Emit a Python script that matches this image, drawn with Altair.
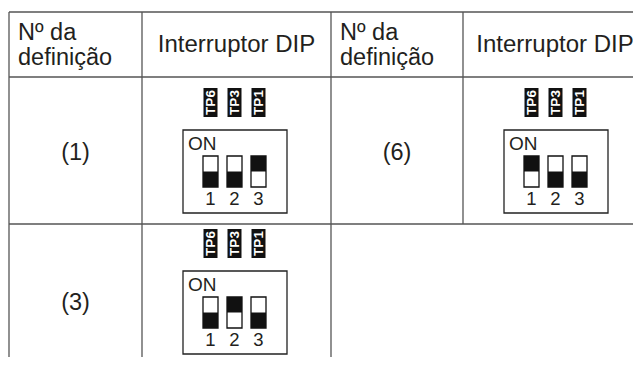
import altair as alt
import pandas as pd

# ---------------- data ----------------
header_setting = ["Nº da", "definição"]
header_dip = "Interruptor DIP"
setting_labels = ["(1)", "(6)", "(3)"]
setting_rows = [0, 0, 1]          # table row of each setting
setting_cols = [0, 2, 0]          # table column of each setting
switch_states = [[0, 0, 1], [1, 0, 0], [0, 1, 0]]   # 1 = ON (lever up)
tp_labels = ["TP6", "TP3", "TP1"]
switch_numbers = ["1", "2", "3"]
on_label = "ON"

# ---------------- layout ----------------
W, H = 625, 349
X0, Y0 = 8, 8
col_edges = [9, 142, 331, 463, 651]
row_edges = [12, 77, 224, 400]      # header, row 1, row 2 (bottom beyond view)
dip_shift = [0, 0, -6]              # vertical nudge of each switch drawing
FONT = "Liberation Sans"
INK = "#231f20"
LINE = "#555555"

X = alt.Scale(domain=[X0, X0 + W], nice=False, zero=False)
Y = alt.Scale(domain=[Y0, Y0 + H], nice=False, zero=False, reverse=True)

# grid lines
rules = []
for yv in row_edges[:3]:
    rules.append(dict(x=col_edges[0], x2=col_edges[-1], y=yv, y2=yv))
for i, xv in enumerate(col_edges):
    bottom = row_edges[3] if i <= 2 else row_edges[2]
    rules.append(dict(x=xv, x2=xv, y=row_edges[0], y2=bottom))
rules_df = pd.DataFrame(rules)

# header texts
hdr = []
for c in (0, 2):
    for k, line in enumerate(header_setting):
        hdr.append(dict(x=col_edges[c] + 9, y=40 + 25 * k, t=line))
hdr_df = pd.DataFrame(hdr)
hdr2 = [dict(x=236.5, y=52, t=header_dip), dict(x=555, y=52, t=header_dip)]
hdr2_df = pd.DataFrame(hdr2)

# setting numbers
sets = []
for lab, r, c in zip(setting_labels, setting_rows, setting_cols):
    cy = (row_edges[r + 1] + min(row_edges[r + 2], 378)) / 2 + 2
    sets.append(dict(x=(col_edges[c] + col_edges[c + 1]) / 2, y=cy, t=lab))
sets_df = pd.DataFrame(sets)

# DIP switch pieces
boxes, tps, sw, halves, nums, ons = [], [], [], [], [], []
for states, r, c, dy in zip(switch_states, setting_rows, setting_cols, dip_shift):
    left = col_edges[c + 1]
    top = row_edges[r + 1] + dy
    bl = left + 41
    bt = top + 53
    boxes.append(dict(x=bl, x2=bl + 104, y=bt, y2=bt + 83))
    ons.append(dict(x=bl + 5, y=bt + 20, t=on_label))
    for i, (st, tp, num) in enumerate(zip(states, tp_labels, switch_numbers)):
        cx = bl + 27.5 + 24 * i
        tps.append(dict(x=cx - 7, x2=cx + 7, y=top + 11, y2=top + 40,
                        cx=cx, cy=top + 25.5, t=tp))
        st_top = bt + 26
        sw.append(dict(x=cx - 7.5, x2=cx + 7.5, y=st_top, y2=st_top + 31))
        if st == 1:
            halves.append(dict(x=cx - 7.5, x2=cx + 7.5, y=st_top, y2=st_top + 15.5))
        else:
            halves.append(dict(x=cx - 7.5, x2=cx + 7.5, y=st_top + 15.5, y2=st_top + 31))
        nums.append(dict(x=cx, y=bt + 75, t=num))


def enc_rect():
    return dict(x=alt.X("x:Q", scale=X, axis=None), x2="x2:Q",
                y=alt.Y("y:Q", scale=Y, axis=None), y2="y2:Q")


def enc_text():
    return dict(x=alt.X("x:Q", scale=X, axis=None),
                y=alt.Y("y:Q", scale=Y, axis=None), text="t:N")


grid = alt.Chart(rules_df).mark_rule(color=LINE, strokeWidth=1.3, clip=True).encode(**enc_rect())

hdr_left = alt.Chart(hdr_df).mark_text(
    font=FONT, fontSize=23.5, color=INK, align="left", baseline="alphabetic").encode(**enc_text())
hdr_center = alt.Chart(hdr2_df).mark_text(
    font=FONT, fontSize=24, color=INK, align="center", baseline="alphabetic").encode(**enc_text())
set_txt = alt.Chart(sets_df).mark_text(
    font=FONT, fontSize=23.5, color=INK, align="center", baseline="middle").encode(**enc_text())

box_l = alt.Chart(pd.DataFrame(boxes)).mark_rect(
    fill="white", stroke="#222222", strokeWidth=1.3).encode(**enc_rect())
tp_rect = alt.Chart(pd.DataFrame(tps)).mark_rect(fill="#111111").encode(**enc_rect())
tp_txt = alt.Chart(pd.DataFrame(tps)).mark_text(
    font=FONT, fontSize=13.5, fontWeight="bold", color="white", angle=270,
    align="center", baseline="middle").encode(
    x=alt.X("cx:Q", scale=X, axis=None), y=alt.Y("cy:Q", scale=Y, axis=None), text="t:N")
sw_l = alt.Chart(pd.DataFrame(sw)).mark_rect(
    fill="white", stroke="#111111", strokeWidth=1.3).encode(**enc_rect())
half_l = alt.Chart(pd.DataFrame(halves)).mark_rect(fill="#111111").encode(**enc_rect())
num_l = alt.Chart(pd.DataFrame(nums)).mark_text(
    font=FONT, fontSize=18.5, color=INK, align="center", baseline="alphabetic").encode(**enc_text())
on_l = alt.Chart(pd.DataFrame(ons)).mark_text(
    font=FONT, fontSize=19, color=INK, align="left", baseline="alphabetic").encode(**enc_text())

chart = alt.layer(
    grid, hdr_left, hdr_center, set_txt, box_l, tp_rect, tp_txt, sw_l, half_l, num_l, on_l
).properties(
    width=W, height=H, padding=0, autosize=alt.AutoSizeParams(type="none"),
    background="white"
).configure_view(strokeWidth=0)

chart.save("out.html", embed_options={"renderer": "svg", "actions": False})
